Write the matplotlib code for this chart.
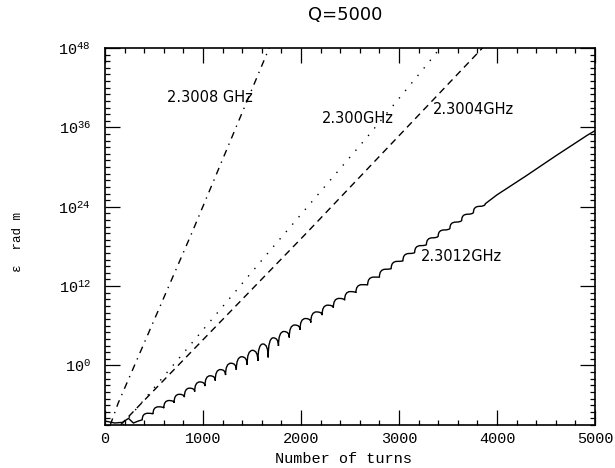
import numpy as np
import matplotlib
matplotlib.use("Agg")
import matplotlib.pyplot as plt
from matplotlib.path import Path
from matplotlib.patches import PathPatch
from matplotlib.ticker import FixedLocator, FuncFormatter

plt.rcParams['font.family'] = ['Liberation Mono', 'DejaVu Sans']
plt.rcParams['mathtext.default'] = 'regular'

# emittance growth, given as log10(eps) against number of turns
turns_3008 = [54, 133, 888, 1653, 1700]
loge_3008 = [-9.0, -5.75, 20.1, 47.2, 48.8]

turns_3000 = [181, 847, 1714, 1888, 2673, 3296, 3430]
loge_3000 = [-9.0, 2.7, 17.9, 20.9, 34.5, 45.7, 48.2]

turns_3004 = [158, 327, 2061, 3755, 3870]
loge_3004 = [-9.0, -6.4, 20.1, 46.5, 48.3]

# 2.3012 GHz: start, scalloped middle (cusps and crests), smooth tail
start_turns = [0, 100, 180, 240, 290, 340]
start_loge = [-8.4, -8.7, -8.6, -8.0, -8.7, -8.4]

cusp_turns = [380, 490, 600, 705, 810, 915, 1020, 1125, 1230, 1340, 1450,
              1560, 1665, 1770, 1880, 1990, 2100, 2215, 2330, 2445, 2560,
              2680, 2800, 2920, 3040, 3160, 3280, 3400, 3520, 3640, 3760,
              3880]
cusp_loge = [-8.22, -7.34, -6.46, -5.63, -4.79, -3.96, -3.12, -2.29, -1.45,
             -0.67, 0.11, 0.68, 1.22, 2.95, 4.23, 5.41, 6.49, 7.61, 8.74,
             9.86, 10.98, 12.17, 13.36, 14.65, 15.83, 17.12, 18.31, 19.60,
             20.79, 22.00, 23.20, 24.45]

crest_turns = [435, 545, 652, 757, 862, 967, 1072, 1177, 1285, 1395, 1505,
               1612, 1717, 1825, 1935, 2045, 2157, 2272, 2387, 2502, 2620,
               2740, 2860, 2980, 3100, 3220, 3340, 3460, 3580, 3700, 3820]
crest_loge = [-7.23, -6.25, -5.30, -4.36, -3.43, -2.49, -1.56, -0.62, 0.34,
              1.32, 2.29, 3.25, 4.18, 5.14, 6.12, 7.10, 8.10, 9.12, 10.14,
              11.17, 12.22, 13.36, 14.55, 15.74, 16.93, 18.12, 19.30, 20.49,
              21.68, 22.87, 24.06]

tail_turns = [4000, 4300, 4600, 4920, 5000]
tail_loge = [25.8, 28.7, 31.7, 34.8, 35.5]

labels = ['2.3008 GHz', '2.300GHz', '2.3004GHz', '2.3012GHz']

ytick_exp = [0, 12, 24, 36, 48]


def e(v):
    return 10.0 ** np.asarray(v, dtype=float)


fig = plt.figure(figsize=(6.15, 4.68), dpi=100)
ax = fig.add_axes([0.1707, 0.0919, 0.7968, 0.8055])
ax.set_yscale('log')

ax.plot(turns_3008, e(loge_3008), color='k', lw=1.0, ls=(0, (5, 4, 1, 4)))
ax.plot(turns_3000, e(loge_3000), color='k', lw=1.0, ls=(0, (1, 6)))
ax.plot(turns_3004, e(loge_3004), color='k', lw=1.0, ls=(0, (5, 3.5)))

# scalloped solid curve: arcs rise steeply out of each cusp and level off at the crest
verts = [(start_turns[0], 10.0 ** start_loge[0])]
codes = [Path.MOVETO]
for t, l in zip(start_turns[1:], start_loge[1:]):
    verts.append((t, 10.0 ** l))
    codes.append(Path.LINETO)
verts.append((cusp_turns[0], 10.0 ** cusp_loge[0]))
codes.append(Path.LINETO)
for i in range(len(crest_turns)):
    top = 10.0 ** crest_loge[i]
    verts += [(cusp_turns[i], top), (crest_turns[i], top)]
    codes += [Path.CURVE3, Path.CURVE3]
    verts += [(cusp_turns[i + 1], top), (cusp_turns[i + 1], 10.0 ** cusp_loge[i + 1])]
    codes += [Path.CURVE3, Path.CURVE3]
for t, l in zip(tail_turns, tail_loge):
    verts.append((t, 10.0 ** l))
    codes.append(Path.LINETO)
ax.add_patch(PathPatch(Path(verts, codes), fill=False, edgecolor='k', lw=1.0))

ax.set_xlim(0, 5000)
ax.set_ylim(1e-9, 1e48)

ax.xaxis.set_major_locator(FixedLocator(range(0, 5001, 1000)))
ax.xaxis.set_minor_locator(FixedLocator(range(0, 5001, 200)))
ax.yaxis.set_major_locator(FixedLocator([10.0 ** k for k in ytick_exp]))
ax.yaxis.set_minor_locator(FixedLocator([10.0 ** k for k in range(-9, 49)]))
ax.yaxis.set_major_formatter(FuncFormatter(lambda v, p: r'$10^{%d}$' % round(np.log10(v))))
ax.yaxis.set_minor_formatter(FuncFormatter(lambda v, p: ''))

ax.tick_params(which='both', direction='in', top=True, right=True, width=0.9)
ax.tick_params(which='major', length=11, labelsize=11)
ax.tick_params(which='minor', length=3.5)
ax.tick_params(axis='x', pad=5)
ax.tick_params(axis='y', pad=10)
for s in ax.spines.values():
    s.set_linewidth(1.2)

hand = dict(family='DejaVu Sans', fontsize=10.5, transform=ax.transAxes,
            ha='left', va='center')
ax.text(0.127, 0.870, labels[0], **hand)
ax.text(0.443, 0.814, labels[1], **hand)
ax.text(0.669, 0.838, labels[2], **hand)
ax.text(0.645, 0.446, labels[3], **hand)

fig.text(0.561, 0.968, 'Q=5000', family='DejaVu Sans', fontsize=13,
         ha='center', va='center')
fig.text(0.559, 0.020, 'Number of turns', fontsize=11, ha='center', va='center')
fig.text(0.03, 0.483, 'ε  rad m', fontsize=9, rotation=90, ha='center', va='center')

fig.savefig('out.png', dpi=100)
